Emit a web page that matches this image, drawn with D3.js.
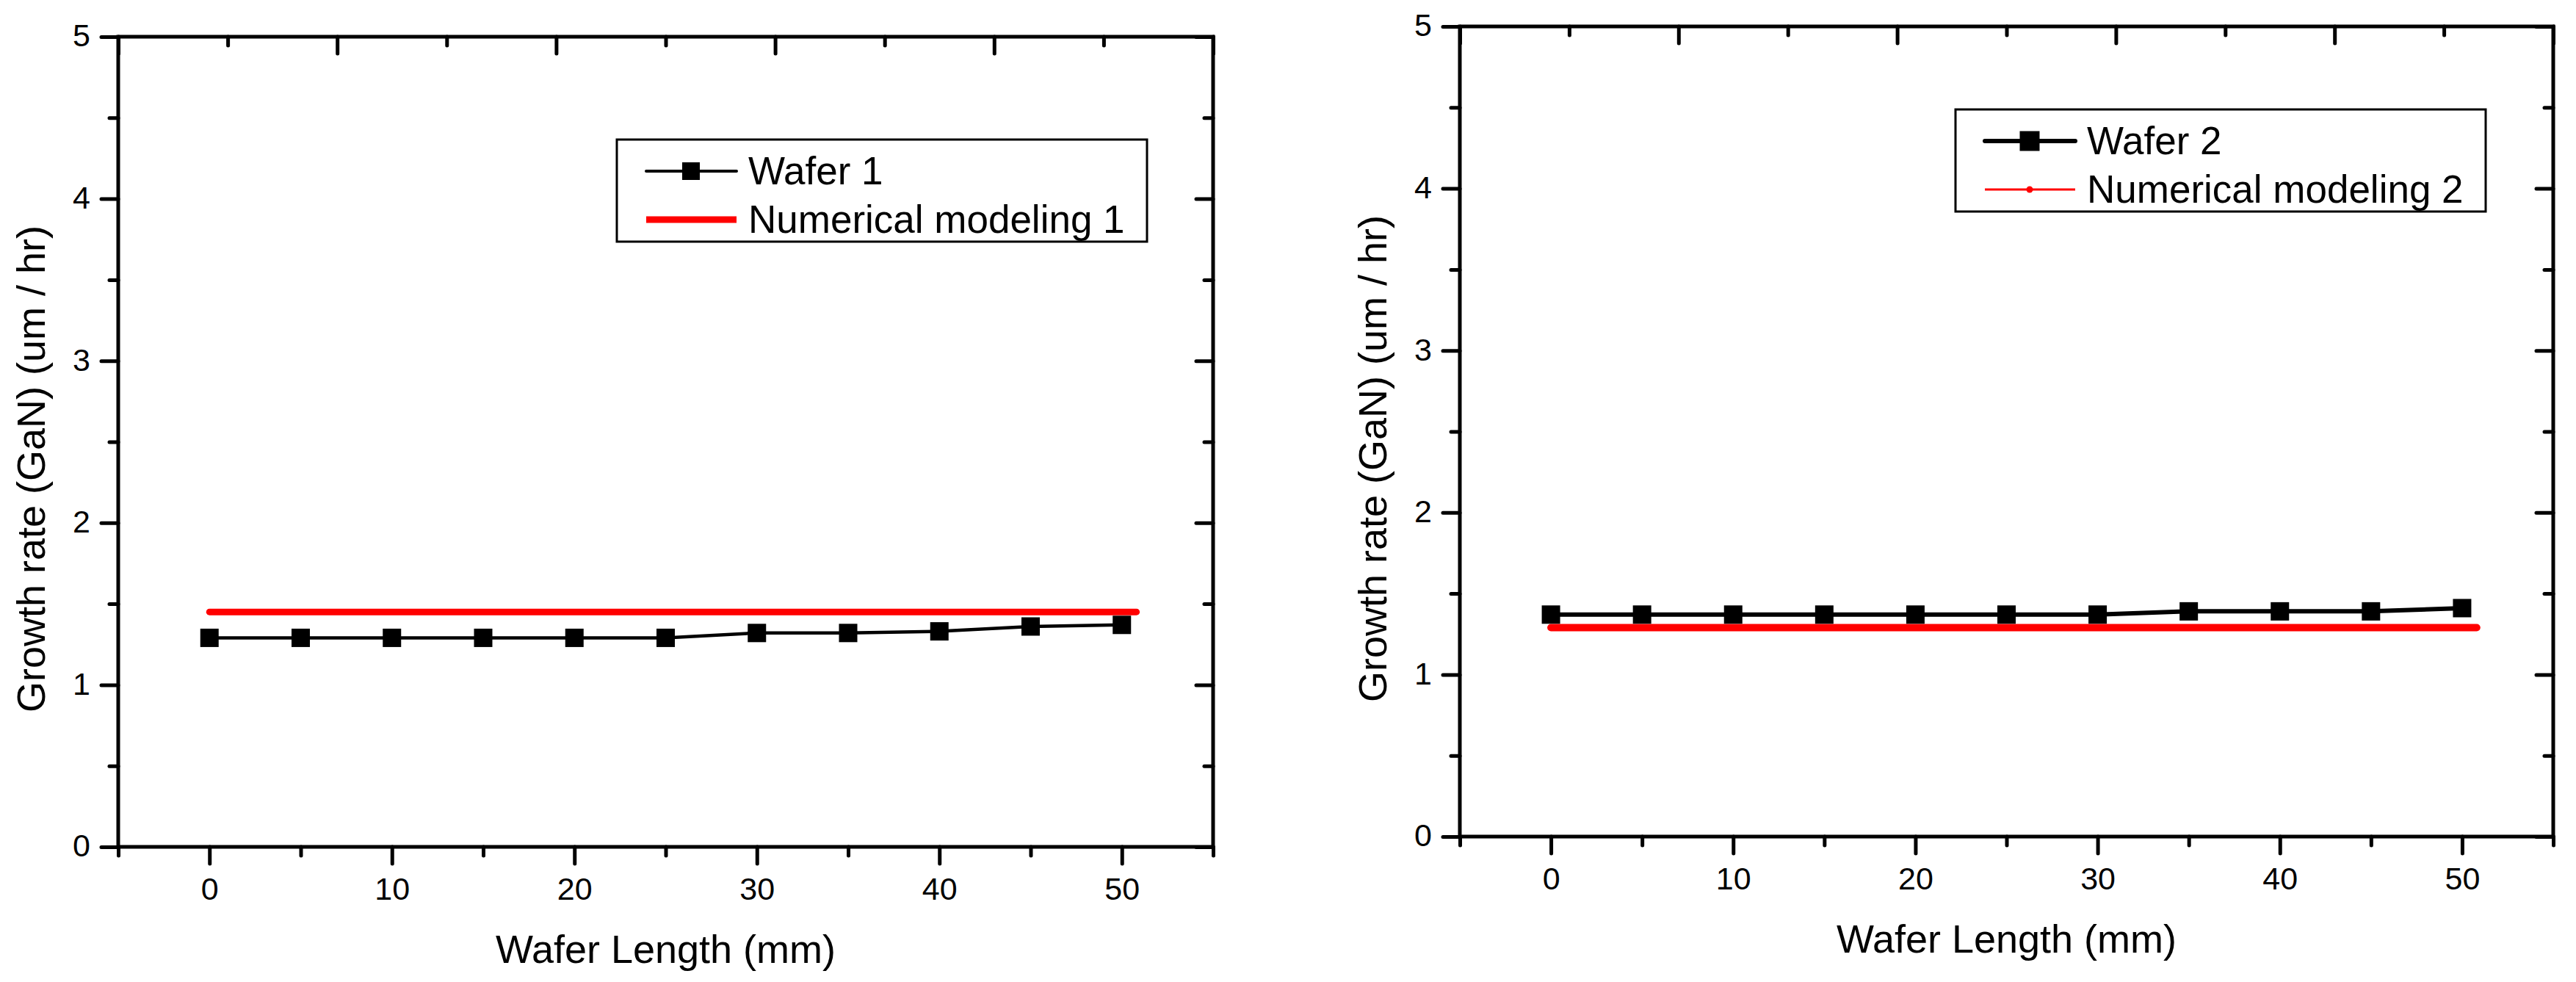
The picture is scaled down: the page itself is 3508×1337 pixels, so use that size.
<!DOCTYPE html>
<html>
<head>
<meta charset="utf-8">
<script src="https://cdn.jsdelivr.net/npm/d3@7"></script>
<style>
body{margin:0;background:#fff}
text{font-family:"Liberation Sans",Arial,Helvetica,sans-serif;fill:#000}
</style>
</head>
<body>
<svg id="chart" width="3508" height="1337"></svg>
<script>

const waferLength = [0,5,10,15,20,25,30,35,40,45,50]
const wafer1 = [1.29,1.29,1.29,1.29,1.29,1.29,1.32,1.32,1.33,1.36,1.37]
const wafer2 = [1.37,1.37,1.37,1.37,1.37,1.37,1.37,1.39,1.39,1.39,1.41]
const modelLength = [0,50.8]
const model1 = [1.45,1.45]
const model2 = [1.29,1.29]

const xMajorTicks = [0,10,20,30,40,50]
const xMinorTicks = [-5,5,15,25,35,45,55]
const yMajorTicks = [0,1,2,3,4,5]
const yMinorTicks = [0.5,1.5,2.5,3.5,4.5]
const topMajorTicks = [0,2,4,6,8,10]
const topMinorTicks = [1,3,5,7,9]

const seriesNames = ["Wafer 1","Numerical modeling 1","Wafer 2","Numerical modeling 2"]
const xTitle = "Wafer Length (mm)"
const yTitle = "Growth rate (GaN) (um / hr)"

const panels = [
	{box:{left:161,top:50,right:1652,bottom:1153}, legend:{x:840,y:190},
	 wafer:wafer1, model:model1, names:[seriesNames[0],seriesNames[1]],
	 lineW:4.5, markW:25, legLineW:4, legMarkW:24, modelW:9, legModelW:9, modelDot:false},
	{box:{left:1988,top:36,right:3477,bottom:1139}, legend:{x:2663,y:149},
	 wafer:wafer2, model:model2, names:[seriesNames[2],seriesNames[3]],
	 lineW:6, markW:25, legLineW:6, legMarkW:27, modelW:10, legModelW:3, modelDot:true}
]

const svg = d3.select("#chart")

function styleAxis(sel,fontSize){
	sel.select(".domain").remove()
	sel.attr("font-size",fontSize)
	sel.selectAll("line").attr("stroke","#000").attr("stroke-width",5).attr("stroke-linecap","round")
}

function drawPanel(p){
	let box = p.box
	let g = svg.append("g")
	let x = d3.scaleLinear().domain([-5,55]).range([box.left,box.right])
	let y = d3.scaleLinear().domain([0,5]).range([box.bottom,box.top])
	let top = d3.scaleLinear().domain([0,10]).range([box.left,box.right])
	let fmt = d3.format("d")

	// left and bottom: outward ticks with labels on the majors
	g.append("g").attr("transform","translate("+box.left+",0)")
		.call(d3.axisLeft(y).tickValues(yMajorTicks).tickSizeInner(23).tickSizeOuter(0).tickPadding(15).tickFormat(fmt))
		.call(s=>styleAxis(s,43))
	g.append("g").attr("transform","translate("+box.left+",0)")
		.call(d3.axisLeft(y).tickValues(yMinorTicks).tickSizeInner(12).tickSizeOuter(0).tickFormat(""))
		.call(s=>styleAxis(s,43))
	g.selectAll("g.tick text").attr("dy","0.30em")

	g.append("g").attr("transform","translate(0,"+box.bottom+")")
		.call(d3.axisBottom(x).tickValues(xMajorTicks).tickSizeInner(23).tickSizeOuter(0).tickPadding(18).tickFormat(fmt))
		.call(s=>styleAxis(s,43))
	g.append("g").attr("transform","translate(0,"+box.bottom+")")
		.call(d3.axisBottom(x).tickValues(xMinorTicks).tickSizeInner(12).tickSizeOuter(0).tickFormat(""))
		.call(s=>styleAxis(s,43))

	// top and right: inward ticks, no labels
	g.append("g").attr("transform","translate(0,"+box.top+")")
		.call(d3.axisTop(top).tickValues(topMajorTicks).tickSizeInner(-23).tickSizeOuter(0).tickFormat(""))
		.call(s=>styleAxis(s,43))
	g.append("g").attr("transform","translate(0,"+box.top+")")
		.call(d3.axisTop(top).tickValues(topMinorTicks).tickSizeInner(-12).tickSizeOuter(0).tickFormat(""))
		.call(s=>styleAxis(s,43))
	g.append("g").attr("transform","translate("+box.right+",0)")
		.call(d3.axisRight(y).tickValues(yMajorTicks).tickSizeInner(-23).tickSizeOuter(0).tickFormat(""))
		.call(s=>styleAxis(s,43))
	g.append("g").attr("transform","translate("+box.right+",0)")
		.call(d3.axisRight(y).tickValues(yMinorTicks).tickSizeInner(-12).tickSizeOuter(0).tickFormat(""))
		.call(s=>styleAxis(s,43))

	g.append("rect")
		.attr("x",box.left).attr("y",box.top)
		.attr("width",box.right-box.left).attr("height",box.bottom-box.top)
		.attr("fill","none").attr("stroke","#000").attr("stroke-width",5)

	let line = d3.line().x(d=>x(d[0])).y(d=>y(d[1]))

	g.append("path")
		.datum(d3.zip(modelLength,p.model))
		.attr("d",line)
		.attr("fill","none").attr("stroke","#ff0000")
		.attr("stroke-width",p.modelW).attr("stroke-linecap","round")

	let pts = d3.zip(waferLength,p.wafer)
	g.append("path")
		.datum(pts)
		.attr("d",line)
		.attr("fill","none").attr("stroke","#000").attr("stroke-width",p.lineW)
	g.selectAll("rect.mark").data(pts).enter().append("rect")
		.attr("class","mark")
		.attr("x",d=>x(d[0])-p.markW/2).attr("y",d=>y(d[1])-p.markW/2)
		.attr("width",p.markW).attr("height",p.markW)
		.attr("fill","#000")

	// titles
	g.append("text")
		.attr("x",(box.left+box.right)/2).attr("y",box.bottom+158)
		.attr("text-anchor","middle").attr("font-size",54)
		.text(xTitle)
	g.append("text")
		.attr("transform","translate("+(box.left-100)+","+((box.top+box.bottom)/2+37)+") rotate(-90)")
		.attr("text-anchor","middle").attr("font-size",54)
		.text(yTitle)

	// legend
	let lg = p.legend
	g.append("rect")
		.attr("x",lg.x).attr("y",lg.y).attr("width",722).attr("height",139)
		.attr("fill","#fff").attr("stroke","#000").attr("stroke-width",3)
	let row1 = lg.y+43, row2 = lg.y+109
	g.append("line")
		.attr("x1",lg.x+40).attr("x2",lg.x+163).attr("y1",row1).attr("y2",row1)
		.attr("stroke","#000").attr("stroke-width",p.legLineW).attr("stroke-linecap","round")
	g.append("rect")
		.attr("x",lg.x+101-p.legMarkW/2).attr("y",row1-p.legMarkW/2)
		.attr("width",p.legMarkW).attr("height",p.legMarkW).attr("fill","#000")
	g.append("line")
		.attr("x1",lg.x+40).attr("x2",lg.x+163).attr("y1",row2).attr("y2",row2)
		.attr("stroke","#ff0000").attr("stroke-width",p.legModelW)
	if(p.modelDot)
		g.append("circle").attr("cx",lg.x+101).attr("cy",row2).attr("r",4.5).attr("fill","#ff0000")
	g.append("text").attr("x",lg.x+179).attr("y",row1+18).attr("font-size",53).text(p.names[0])
	g.append("text").attr("x",lg.x+179).attr("y",row2+18).attr("font-size",53).text(p.names[1])
}

for(let p of panels)
	drawPanel(p)

</script>
</body>
</html>
